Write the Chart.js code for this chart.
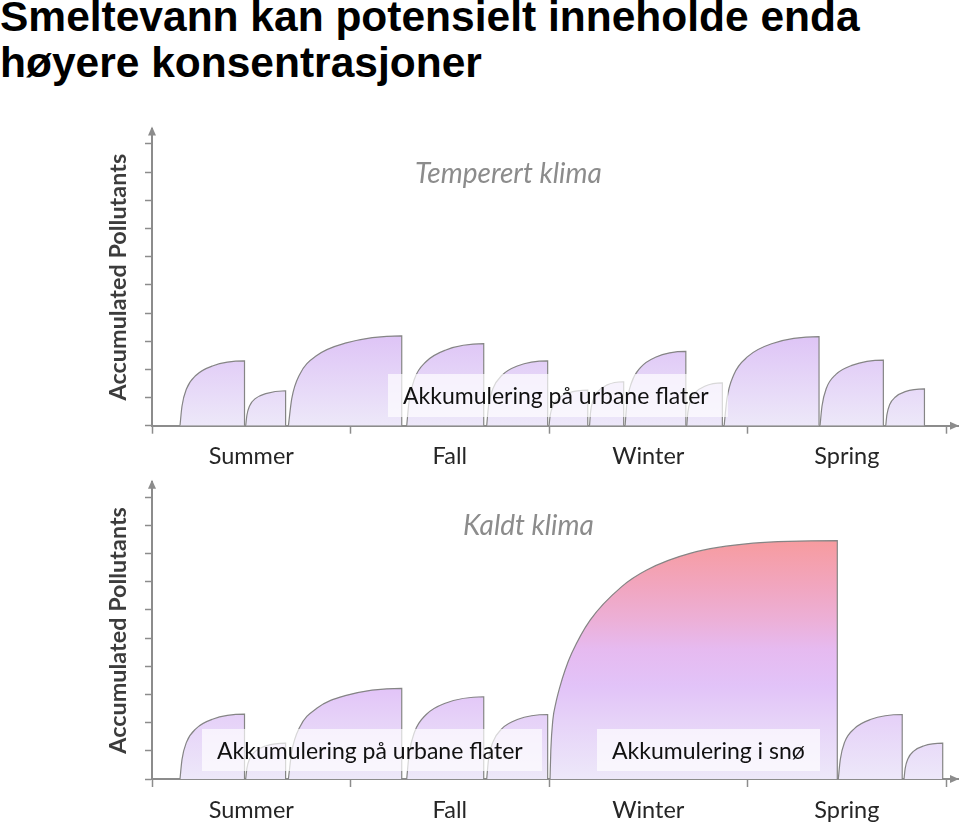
<!DOCTYPE html>
<html>
<head>
<meta charset="utf-8">
<script src="https://cdn.jsdelivr.net/npm/chart.js@4.4.0/dist/chart.umd.min.js"></script>
<style>
  html, body { margin: 0; padding: 0; background: #fff; }
  body { width: 960px; height: 840px; position: relative; overflow: hidden; font-family: Lato, "Open Sans", sans-serif; }
  h1 { position: absolute; left: 0; top: -6px; margin: 0; font: bold 42.5px/46px "Liberation Sans", Arial, sans-serif; color: #000; white-space: nowrap; }
  canvas { position: absolute; left: 0; }
  .sub { position: absolute; font-style: italic; font-size: 28px; line-height: 34px; color: #8c8c8c; white-space: nowrap; }
  .box { position: absolute; background: rgba(255,255,255,0.68); font-size: 23px; color: #111; padding-left: 15px; box-sizing: border-box; white-space: nowrap; }
</style>
</head>
<body>
<h1>Smeltevann kan potensielt inneholde enda<br>høyere konsentrasjoner</h1>

<canvas id="tempChart" width="960" height="370" style="top:100px"></canvas>
<canvas id="coldChart" width="960" height="370" style="top:470px"></canvas>

<div class="sub" style="left:415px; top:155px">Temperert klima</div>
<div class="sub" style="left:463px; top:507px">Kaldt klima</div>

<div class="box" style="left:388px; top:374px; width:340px; height:43px; line-height:43px">Akkumulering på urbane flater</div>
<div class="box" style="left:202px; top:729px; width:340px; height:42px; line-height:42px">Akkumulering på urbane flater</div>
<div class="box" style="left:597px; top:729px; width:223px; height:42px; line-height:42px">Akkumulering i snø</div>

<script>
// x axis: seasons, one unit per season; labels sit between the tick marks
var seasonLabels = ['Summer', 'Fall', 'Winter', 'Spring'];
var seasonTicks = [0, 0.5, 1, 1.5, 2, 2.5, 3, 3.5, 4];

// Temperert klima - one curve per build-up period (x = season units, y = accumulated)
var tempX = [
  [0.141, 0.151, 0.174, 0.222, 0.304, 0.466],
  [0.472, 0.478, 0.492, 0.522, 0.573, 0.673],
  [0.687, 0.704, 0.744, 0.830, 0.973, 1.258],
  [1.283, 1.295, 1.322, 1.380, 1.477, 1.671],
  [1.686, 1.695, 1.717, 1.763, 1.840, 1.993],
  [2.000, 2.006, 2.020, 2.049, 2.098, 2.195],
  [2.204, 2.209, 2.221, 2.247, 2.290, 2.376],
  [2.383, 2.392, 2.414, 2.460, 2.536, 2.689],
  [2.694, 2.699, 2.712, 2.739, 2.784, 2.873],
  [2.882, 2.896, 2.930, 3.002, 3.121, 3.360],
  [3.365, 3.375, 3.397, 3.445, 3.525, 3.684],
  [3.696, 3.702, 3.716, 3.745, 3.794, 3.891]
];
var tempY = [
  [0, 0.69, 1.31, 1.79, 2.12, 2.30],
  [0, 0.37, 0.71, 0.97, 1.14, 1.24],
  [0, 0.96, 1.82, 2.49, 2.93, 3.19],
  [0, 0.87, 1.66, 2.27, 2.68, 2.91],
  [0, 0.69, 1.31, 1.79, 2.12, 2.30],
  [0, 0.38, 0.72, 0.98, 1.16, 1.26],
  [0, 0.47, 0.89, 1.22, 1.44, 1.56],
  [0, 0.79, 1.50, 2.06, 2.43, 2.64],
  [0, 0.46, 0.87, 1.19, 1.40, 1.52],
  [0, 0.95, 1.80, 2.46, 2.91, 3.16],
  [0, 0.70, 1.33, 1.82, 2.14, 2.33],
  [0, 0.39, 0.75, 1.02, 1.21, 1.31]
];

// Kaldt klima - the winter period builds up in the snow
var coldX = [
  [0.141, 0.151, 0.174, 0.222, 0.304, 0.466],
  [0.472, 0.478, 0.492, 0.522, 0.573, 0.673],
  [0.687, 0.704, 0.744, 0.830, 0.973, 1.258],
  [1.283, 1.295, 1.322, 1.380, 1.477, 1.671],
  [1.686, 1.695, 1.717, 1.763, 1.840, 1.993],
  [2.005, 2.009, 2.019, 2.034, 2.055, 2.081, 2.114, 2.207, 2.366, 2.492, 2.710, 3.028, 3.452],
  [3.457, 3.467, 3.489, 3.538, 3.618, 3.779],
  [3.788, 3.794, 3.808, 3.837, 3.886, 3.983]
];
var coldY = [
  [0, 0.69, 1.31, 1.79, 2.12, 2.30],
  [0, 0.38, 0.72, 0.99, 1.17, 1.27],
  [0, 0.97, 1.84, 2.51, 2.96, 3.22],
  [0, 0.88, 1.66, 2.28, 2.69, 2.92],
  [0, 0.69, 1.31, 1.79, 2.11, 2.29],
  [0, 1.03, 2.09, 2.69, 3.28, 3.87, 4.46, 5.64, 6.83, 7.42, 8.01, 8.37, 8.46],
  [0, 0.69, 1.31, 1.79, 2.11, 2.29],
  [0, 0.38, 0.72, 0.99, 1.17, 1.27]
];

// fill colours by height
var tempFillValues = [0, 3.2];
var tempFillColors = ['#ede8f9', '#dec4f6'];
var coldFillValues = [0, 2.1, 3.3, 4.6, 5.6, 6.8, 8.5];
var coldFillColors = ['#ede8f9', '#e6d2f8', '#e2c3f8', '#e6baf0', '#ecb0d8', '#f1a6c0', '#f79b9e'];

var axisGray = '#8c8c8c';

function makeFill(values, colors) {
  return function(context) {
    var chart = context.chart;
    if (!chart.chartArea) return 'rgba(0,0,0,0)';
    var y = chart.scales.y;
    var top = values[values.length - 1];
    var g = chart.ctx.createLinearGradient(0, y.getPixelForValue(0), 0, y.getPixelForValue(top));
    values.forEach(function(v, i) { g.addColorStop(v / top, colors[i]); });
    return g;
  };
}

var arrowPlugin = {
  id: 'arrows',
  afterDraw: function(chart) {
    var ctx = chart.ctx, area = chart.chartArea;
    var x0 = chart.scales.x.getPixelForValue(0);
    var y0 = chart.scales.y.getPixelForValue(0);
    ctx.save();
    ctx.fillStyle = axisGray;
    ctx.beginPath();
    ctx.moveTo(x0, area.top - 2);
    ctx.lineTo(x0 - 4, area.top + 7);
    ctx.lineTo(x0 + 4, area.top + 7);
    ctx.fill();
    ctx.beginPath();
    ctx.moveTo(area.right + 1, y0);
    ctx.lineTo(area.right - 8, y0 - 4);
    ctx.lineTo(area.right - 8, y0 + 4);
    ctx.fill();
    ctx.restore();
  }
};

function makeChart(id, xs, ys, fillValues, fillColors, padTop, xHeight) {
  var fill = makeFill(fillValues, fillColors);
  var datasets = xs.map(function(row, i) {
    var pts = row.map(function(x, j) { return {x: x, y: ys[i][j]}; });
    pts.push({x: row[row.length - 1], y: 0});
    return {
      data: pts,
      fill: 'origin',
      backgroundColor: fill,
      borderColor: '#858585',
      borderWidth: 1.2,
      pointRadius: 0,
      cubicInterpolationMode: 'monotone'
    };
  });

  return new Chart(document.getElementById(id), {
    type: 'line',
    data: { datasets: datasets },
    plugins: [arrowPlugin],
    options: {
      responsive: false,
      animation: false,
      events: [],
      layout: { padding: { top: padTop, right: 2, bottom: 0, left: 0 } },
      plugins: { legend: { display: false }, tooltip: { enabled: false } },
      scales: {
        x: {
          type: 'linear',
          min: 0,
          max: 4.06,
          afterFit: function(scale) { scale.height = xHeight; },
          afterBuildTicks: function(scale) {
            scale.ticks = seasonTicks.map(function(v) { return {value: v}; });
          },
          border: { color: axisGray, width: 2 },
          grid: {
            drawOnChartArea: false,
            tickLength: 8,
            tickWidth: 1.5,
            tickColor: function(c) { return c.tick && c.tick.value % 1 === 0 ? axisGray : 'rgba(0,0,0,0)'; }
          },
          ticks: {
            autoSkip: false,
            maxRotation: 0,
            padding: 9,
            color: '#262626',
            font: { family: 'Lato', size: 23.5 },
            callback: function(v) { return v % 1 === 0 ? '' : seasonLabels[Math.floor(v)]; }
          }
        },
        y: {
          min: 0,
          max: 10.55,
          afterFit: function(scale) { scale.width = 152; },
          border: { color: axisGray, width: 2 },
          grid: { drawOnChartArea: false, tickLength: 7, tickWidth: 1.5, tickColor: axisGray },
          ticks: { display: false, stepSize: 1, includeBounds: false },
          title: {
            display: true,
            text: 'Accumulated Pollutants',
            color: '#3c3c3c',
            font: { family: 'Lato', size: 23.4, weight: 'bold' },
            padding: { top: 104, bottom: 0 }
          }
        }
      }
    }
  });
}

makeChart('tempChart', tempX, tempY, tempFillValues, tempFillColors, 28.5, 44.3);
makeChart('coldChart', coldX, coldY, coldFillValues, coldFillColors, 11.8, 61);
</script>
</body>
</html>
